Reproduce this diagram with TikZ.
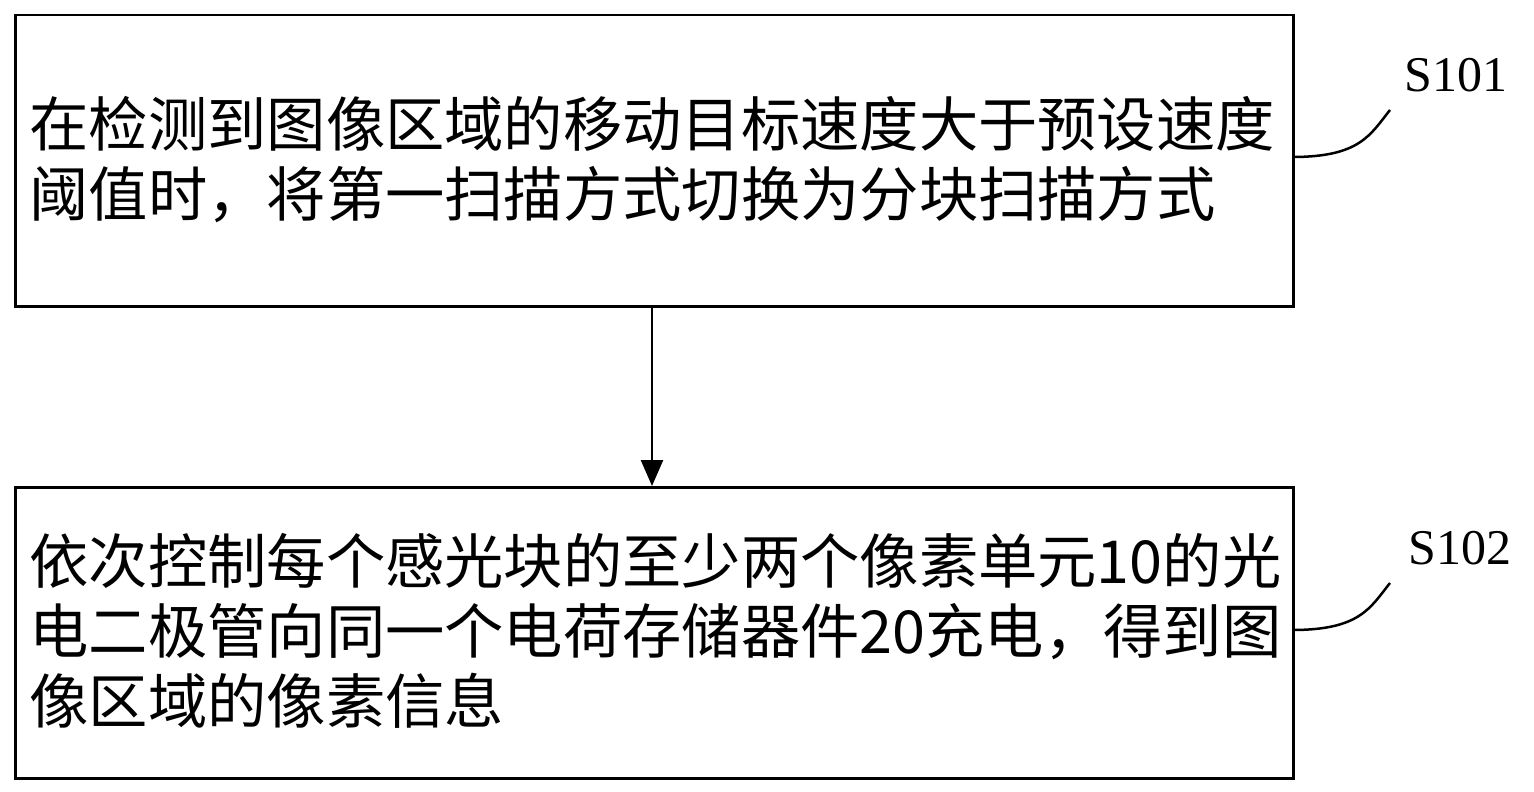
\documentclass[tikz,border=0pt]{standalone}
\usepackage{fontspec}
\setmainfont{Liberation Serif}
\newfontfamily\cjk{Noto Sans CJK SC}
\usetikzlibrary{arrows.meta, positioning}

\begin{document}
\begin{tikzpicture}[x=1pt, y=-1pt,
                stepbox/.style={draw=black, line width=2.5pt, minimum width=1278pt, minimum height=291pt,
                    inner sep=0pt, anchor=north west},
                steptext/.style={font=\fontsize{59.3pt}{70pt}\selectfont\cjk, align=left, anchor=west},
                steplabel/.style={font=\fontsize{50pt}{52pt}\selectfont}
                ]
                \useasboundingbox (0,0) rectangle (1534,792);
                %% Boxes
                \node[stepbox] (box1) at (14,14) {};
                \node[stepbox] (box2) at (14,486) {};
                \node[steptext] (txt1) at (26,160) {在检测到图像区域的移动目标速度大于预设速度\\阈值时，将第一扫描方式切换为分块扫描方式};
                \node[steptext] (txt2) at (26,631) {依次控制每个感光块的至少两个像素单元10的光\\电二极管向同一个电荷存储器件20充电，得到图\\像区域的像素信息};

                %% Arrow
                \draw[-{Triangle[length=26pt, width=22pt]}, line width=2.5pt] (box1.south -| 652,0) -- (box2.north -| 652,0);

                %% Labels
                \node[steplabel] (lab1) at (1456,75) {S101};
                \node[steplabel] (lab2) at (1460,548) {S102};
                \coordinate (c1) at (1292,157);
                \coordinate (c2) at (1292,630);
                \draw[line width=2.5pt] (c1) .. controls (1360,157) and (1370,135) .. (1390,110);
                \draw[line width=2.5pt] (c2) .. controls (1360,630) and (1370,608) .. (1390,583);
\end{tikzpicture}
\end{document}
